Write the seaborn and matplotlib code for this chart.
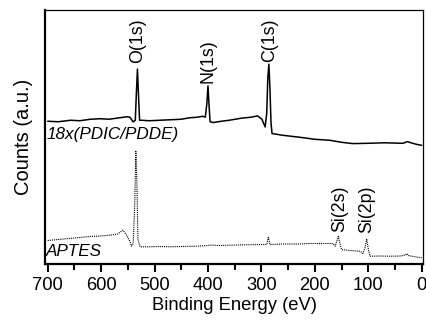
import matplotlib
matplotlib.use("Agg")
import matplotlib.pyplot as plt
import seaborn as sns
import pandas as pd

# spectra (binding energy in eV, counts in arbitrary units)
pdic_energy = [700, 680, 657, 640, 620, 601, 585, 565, 551, 546, 540, 536, 534, 532, 530, 528,
               525, 510, 490, 470, 450, 434, 420, 410, 405, 402, 400, 398, 396, 390, 375,
               360, 338, 320, 307, 299, 293, 290, 288, 286, 284, 282, 280, 260, 228, 200,
               172, 150, 129, 100, 70, 35, 30, 27, 20, 10, 0]
pdic_counts = [142, 141.5, 143, 142.5, 144, 144.5, 144, 145.5, 146.5, 146, 141.3, 143, 170, 194, 168, 143,
               143, 142.5, 143, 143.5, 144, 145.5, 146, 147, 146, 160, 177.3, 158, 141.5, 140.7, 142,
               143, 145, 146, 147.3, 144, 136.3, 150, 185, 199, 175, 140, 129.7, 128, 126, 124,
               123, 121, 119.7, 120, 120.5, 120, 121, 121.7, 120.5, 119, 118]

aptes_energy = [700, 680, 660, 640, 621, 600, 580, 569, 559, 552, 546, 543, 540, 537, 535, 533, 531,
                527, 510, 490, 471, 450, 430, 415, 400, 396, 380, 346, 320, 295, 290, 287, 284,
                260, 230, 209, 185, 166, 162, 159, 156, 153, 150, 135, 115, 110, 106, 103, 100,
                97, 80, 60, 40, 30, 28, 25, 15, 0]
aptes_counts = [23, 24, 25, 26, 27, 27.5, 28.5, 29.5, 33.3, 28, 22, 17.3, 20, 60, 112, 80, 24,
                16.7, 16.7, 17, 16.7, 17, 17.2, 17.5, 18, 18.5, 18, 18.5, 18.8, 19, 19, 26.3, 19,
                19.5, 19.5, 20, 20, 20, 17.3, 22, 27.3, 20, 14, 13, 12.3, 10, 16, 24.7, 15,
                7.3, 7.5, 7.3, 7.5, 8.5, 10, 8, 7, 5.7]

peak_labels = ["O(1s)", "N(1s)", "C(1s)", "Si(2s)", "Si(2p)"]
peak_energy = [532, 400, 285, 154, 103]
peak_label_y = [200, 180, 201, 31, 30]

sample_names = ["18x(PDIC/PDDE)", "APTES"]
sample_label_y = [129, 12.5]

sns.set_style("ticks")
plt.rcParams["font.family"] = ["Liberation Sans", "DejaVu Sans"]
plt.rcParams["text.color"] = "black"
plt.rcParams["axes.labelcolor"] = "black"
plt.rcParams["xtick.color"] = "black"

fig = plt.figure(figsize=(4.27, 3.21), dpi=100)
ax = fig.add_axes([0.1054, 0.179, 0.8859, 0.7898])

pdic = pd.DataFrame({"energy": pdic_energy, "counts": pdic_counts})
aptes = pd.DataFrame({"energy": aptes_energy, "counts": aptes_counts})

sns.lineplot(data=pdic, x="energy", y="counts", sort=False, estimator=None,
             color="black", lw=1.1, ax=ax)
sns.lineplot(data=aptes, x="energy", y="counts", sort=False, estimator=None,
             color="black", lw=0.8, linestyle=(0, (1, 0.9)), ax=ax)

for lab, e, y in zip(peak_labels, peak_energy, peak_label_y):
    ax.text(e, y, lab, rotation=90, ha="center", va="bottom", fontsize=12.8)

for name, y in zip(sample_names, sample_label_y):
    ax.text(703, y, name, ha="left", va="center", fontsize=12.3, style="italic")

ax.set_xlim(705, -3)
ax.set_ylim(0, 253)
ax.set_yticks([])
ax.set_xticks([700, 600, 500, 400, 300, 200, 100, 0])
ax.set_xticks(range(650, 0, -100), minor=True)
ax.tick_params(axis="x", which="major", direction="out", length=6, width=1.5, labelsize=13.2, pad=4)
ax.tick_params(axis="x", which="minor", direction="out", length=4, width=1.5)
ax.set_xlabel("Binding Energy (eV)", fontsize=13.2, labelpad=2)
ax.set_ylabel("Counts (a.u.)", fontsize=14.5, labelpad=9)

for side in ["left", "bottom"]:
    ax.spines[side].set_linewidth(1.6)
for side in ["top", "right"]:
    ax.spines[side].set_linewidth(0.9)
for s in ax.spines.values():
    s.set_color("black")
    s.set_visible(True)

fig.savefig("out.png", dpi=100)
plt.close(fig)
